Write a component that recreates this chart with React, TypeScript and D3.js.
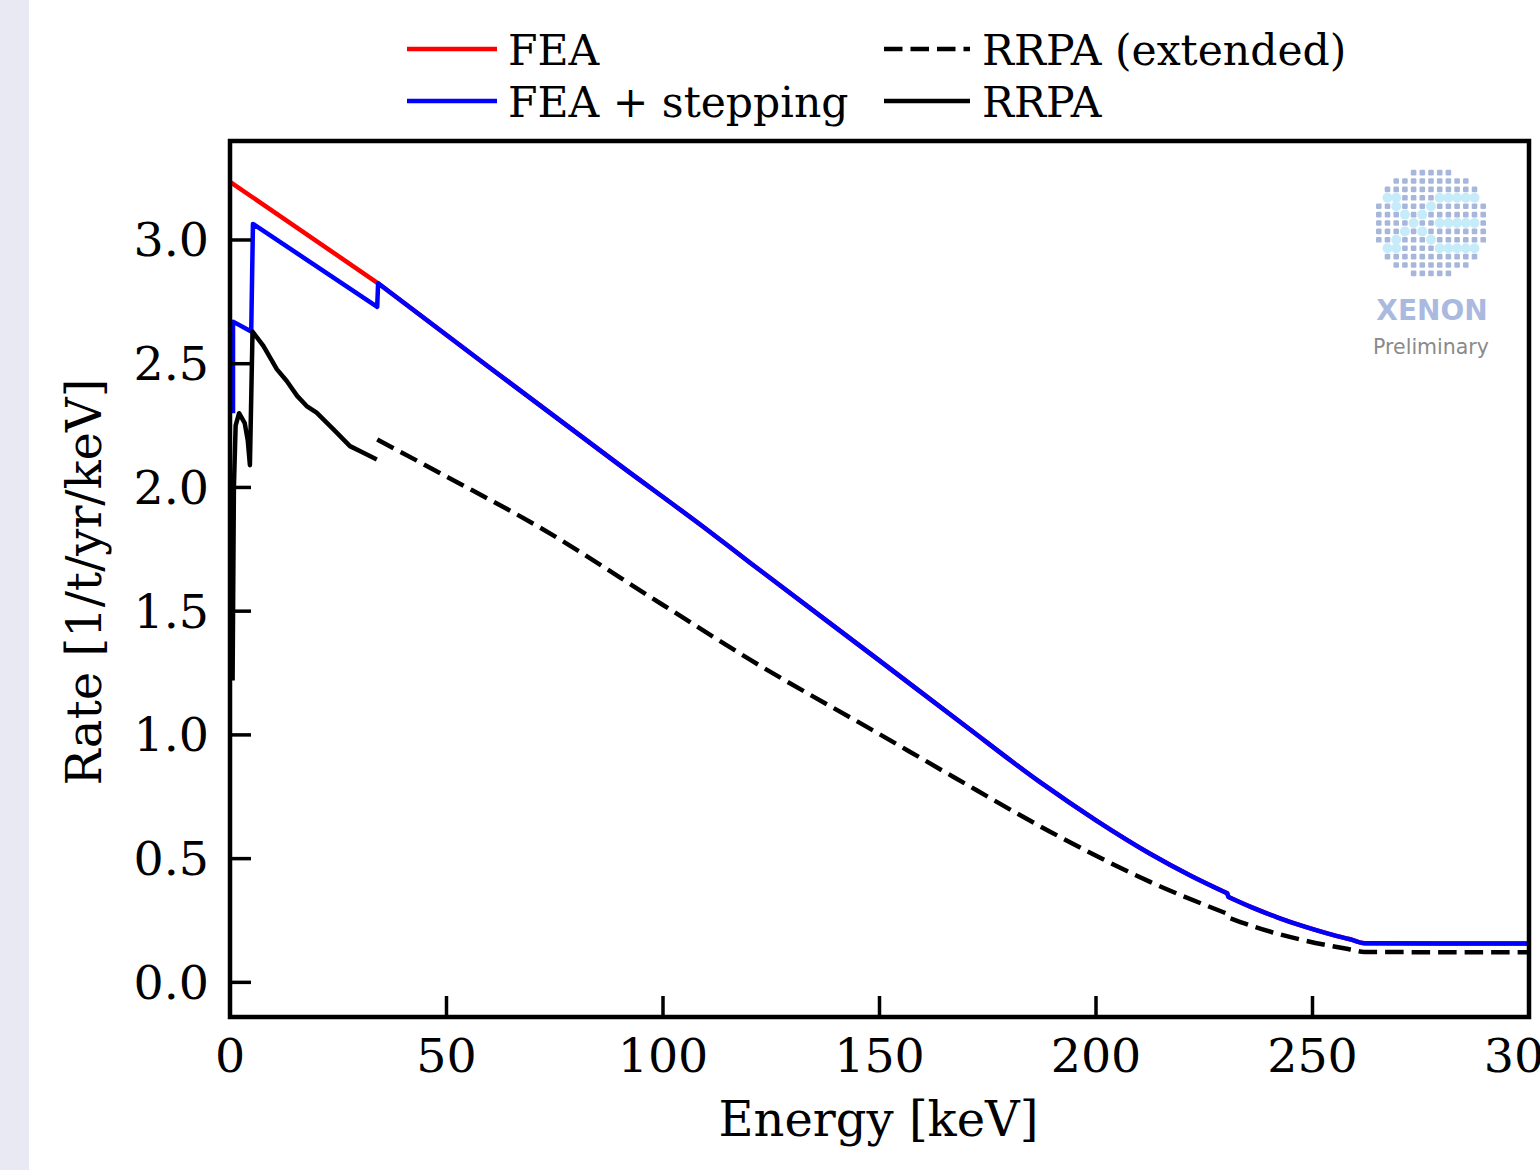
import React from "react";
import * as d3 from "d3";

// ---------- data ----------
const feaE = [0, 34.2, 60, 90, 109.2, 120.1, 150, 170, 187, 200, 212.5, 222, 230.3, 230.6, 236, 242, 248, 254, 258.7, 262, 280, 300];
const feaRate = [3.235, 2.825, 2.484, 2.09, 1.842, 1.696, 1.3, 1.034, 0.81, 0.655, 0.52, 0.43, 0.36, 0.345, 0.303, 0.262, 0.226, 0.195, 0.174, 0.158, 0.157, 0.157];

const stepLowE = [0.7, 0.7, 4.9, 5.3, 34.0, 34.2];
const stepLowRate = [2.3, 2.67, 2.63, 3.065, 2.73, 2.825];

const rrpaE = [0.6, 0.9, 1.3, 2.1, 3.4, 4.1, 4.6, 5.2, 7.7, 10.8, 13.1, 15.5, 17.7, 20.0, 23.9, 27.7, 30.8, 33.9];
const rrpaRate = [1.22, 2.0, 2.25, 2.3, 2.26, 2.19, 2.09, 2.63, 2.572, 2.478, 2.43, 2.37, 2.329, 2.302, 2.235, 2.167, 2.14, 2.113];

const rrpaExtE = [34, 50, 70.8, 100, 120.1, 150, 167, 189.4, 212.5, 230.2, 230.6, 236, 242, 248, 254, 258.7, 262, 280, 300];
const rrpaExtRate = [2.194, 2.044, 1.846, 1.525, 1.304, 1.003, 0.831, 0.609, 0.406, 0.278, 0.262, 0.228, 0.196, 0.17, 0.148, 0.133, 0.123, 0.122, 0.122];

const xTicks = [0, 50, 100, 150, 200, 250, 300];
const yTicks = [0, 0.5, 1.0, 1.5, 2.0, 2.5, 3.0];

const legendItems = [
  { label: "FEA", color: "#ff0000", dash: null, col: 0, row: 0 },
  { label: "FEA + stepping", color: "#0000ff", dash: null, col: 0, row: 1 },
  { label: "RRPA (extended)", color: "#000000", dash: "18.5,8", col: 1, row: 0 },
  { label: "RRPA", color: "#000000", dash: null, col: 1, row: 1 },
];

// ---------- layout ----------
const W = 1540;
const H = 1170;
const L = 230, R = 1529, T = 141, B = 1017;
const FONT = "'DejaVu Serif', serif";

const x = d3.scaleLinear().domain([0, 300]).range([L, R]);
const y = d3.scaleLinear().domain([-0.14, 3.4]).range([B, T]);

type P = [number, number];
const zip = (a: number[], b: number[]): P[] => a.map((v, i) => [v, b[i]]);

const lineLin = d3
  .line<P>()
  .x((d) => x(d[0]))
  .y((d) => y(d[1]))
  .curve(d3.curveLinear);
const lineSmooth = d3
  .line<P>()
  .x((d) => x(d[0]))
  .y((d) => y(d[1]))
  .curve(d3.curveMonotoneX);

const joinPaths = (parts: string[]) =>
  parts[0] + parts.slice(1).map((p) => p.replace(/^M/, "L")).join("");

const inRange = (pts: P[], a: number, b: number) => pts.filter((p) => p[0] >= a && p[0] <= b);

const feaPts = zip(feaE, feaRate);
const feaHighA = inRange(feaPts, 34.2, 230.3);
const feaHighB = inRange(feaPts, 230.6, 300);
const rrpaPts = zip(rrpaE, rrpaRate);
const rrpaExtPts = zip(rrpaExtE, rrpaExtRate);

const feaPath = joinPaths([
  lineLin(inRange(feaPts, 0, 34.2)) || "",
  lineSmooth(feaHighA) || "",
  lineSmooth(feaHighB) || "",
]);
const stepPath = joinPaths([
  lineLin(zip(stepLowE, stepLowRate)) || "",
  lineSmooth(feaHighA) || "",
  lineSmooth(feaHighB) || "",
]);
const extPath = joinPaths([
  lineSmooth(inRange(rrpaExtPts, 0, 230.2)) || "",
  lineSmooth(inRange(rrpaExtPts, 230.6, 300)) || "",
]);

// logo dot grid (decorative)
const highlights: Record<number, number[]> = {
  [-3]: [-5, -4, 1, 2, 3, 4, 5],
  [-2]: [-4, 0],
  [-1]: [-3, -1],
  [0]: [-2, 1, 2, 3, 4, 5],
  [1]: [-3, -1],
  [2]: [-4, 0],
  [3]: [-5, -4, 1, 2, 3, 4, 5],
};

function Logo() {
  const cx = 1431, cy = 223, dx = 8.7, dy = 8.4;
  const dots: React.ReactNode[] = [];
  for (let j = -6; j <= 6; j++) {
    for (let i = -6; i <= 6; i++) {
      if ((i / 6.6) ** 2 + (j / 6.5) ** 2 > 1) continue;
      const hl = (highlights[j] || []).includes(i);
      const px = cx + i * dx, py = cy + j * dy;
      dots.push(
        hl ? (
          <circle key={`${i}_${j}`} cx={px} cy={py} r={5} fill="#c6ecfa" />
        ) : (
          <rect key={`${i}_${j}`} x={px - 2.8} y={py - 2.8} width={5.6} height={5.6} rx={1.2} fill="#a7b7dc" />
        )
      );
    }
  }
  return (
    <g>
      {dots}
      <text x={cx + 1} y={320} textAnchor="middle" fontFamily="'DejaVu Sans', sans-serif" fontWeight="bold" fontSize={28} fill="#aab9de">
        XENON
      </text>
      <text x={cx} y={354} textAnchor="middle" fontFamily="'DejaVu Sans', sans-serif" fontSize={20.5} fill="#8a8a8a">
        Preliminary
      </text>
    </g>
  );
}

export default function App() {
  const lw = 4.5;
  return (
    <div style={{ position: "absolute", left: 0, top: 0 }}>
      <svg width={W} height={H} viewBox={`0 0 ${W} ${H}`} style={{ display: "block", background: "#fff" }}>
        <rect x={0} y={0} width={29} height={H} fill="#e9e9f3" />

        {/* data lines */}
        <g fill="none" strokeLinejoin="round">
          <path d={feaPath} stroke="#ff0000" strokeWidth={lw} />
          <path d={stepPath} stroke="#0000ff" strokeWidth={lw} />
          <path d={extPath} stroke="#000" strokeWidth={lw} strokeDasharray="18.5,8" />
          <path d={lineLin(rrpaPts) || ""} stroke="#000" strokeWidth={lw} />
        </g>

        <Logo />

        {/* ticks */}
        <g stroke="#000" strokeWidth={3.5}>
          {xTicks.map((t) => (
            <line key={`xt${t}`} x1={x(t)} x2={x(t)} y1={B} y2={B - 21} />
          ))}
          {yTicks.map((t) => (
            <line key={`yt${t}`} x1={L} x2={L + 21} y1={y(t)} y2={y(t)} />
          ))}
        </g>

        {/* frame */}
        <rect x={L} y={T} width={R - L} height={B - T} fill="none" stroke="#000" strokeWidth={4.5} />

        {/* tick labels */}
        <g fontFamily={FONT} fontSize={47.5} fill="#000">
          {xTicks.map((t) => (
            <text key={`xl${t}`} x={x(t)} y={1072} textAnchor="middle">
              {String(t)}
            </text>
          ))}
          {yTicks.map((t) => (
            <text key={`yl${t}`} x={209} y={y(t)} textAnchor="end" dominantBaseline="central">
              {t.toFixed(1)}
            </text>
          ))}
        </g>

        {/* axis labels */}
        <text x={(L + R) / 2 - 1} y={1136} textAnchor="middle" fontFamily={FONT} fontSize={48} fill="#000">
          Energy [keV]
        </text>
        <text
          transform={`translate(101, ${(T + B) / 2 + 3}) rotate(-90)`}
          textAnchor="middle"
          fontFamily={FONT}
          fontSize={48}
          fill="#000"
        >
          Rate [1/t/yr/keV]
        </text>

        {/* legend */}
        <g fontFamily={FONT} fontSize={42.5} fill="#000">
          {legendItems.map((it) => {
            const x0 = it.col === 0 ? 407 : 884;
            const x1 = it.col === 0 ? 497 : 970;
            const tx = it.col === 0 ? 508 : 982;
            const ly = it.row === 0 ? 49 : 101;
            return (
              <g key={it.label}>
                <line x1={x0} x2={x1} y1={ly} y2={ly} stroke={it.color} strokeWidth={lw} strokeDasharray={it.dash || undefined} />
                <text x={tx} y={ly + 16}>
                  {it.label}
                </text>
              </g>
            );
          })}
        </g>
      </svg>
    </div>
  );
}
